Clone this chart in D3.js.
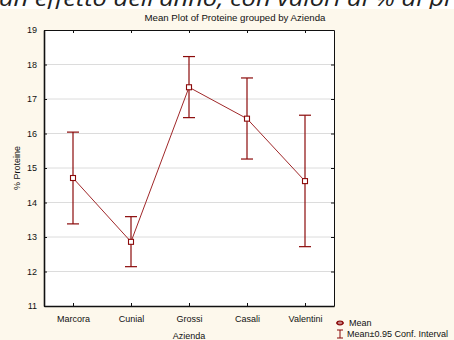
<!DOCTYPE html>
<html><head><meta charset="utf-8">
<script src="https://cdn.jsdelivr.net/npm/d3@7/dist/d3.min.js"></script>
<style>
html,body{margin:0;padding:0;background:#fff;}
svg{display:block;}
text{font-family:"Liberation Sans",Arial,sans-serif;}
</style>
</head><body>
<svg id="c" width="454" height="340"></svg>
<script>
const categories = ["Marcora","Cunial","Grossi","Casali","Valentini"];
const means = [14.71, 12.86, 17.34, 16.43, 14.62];
const upper = [16.04, 13.59, 18.23, 17.61, 16.53];
const lower = [13.38, 12.14, 16.46, 15.26, 12.72];
const yTicks = [11,12,13,14,15,16,17,18,19];
const titleText = "Mean Plot of Proteine grouped by  Azienda";
const xTitle = "Azienda";
const yTitle = "% Proteine";
const legendItems = ["Mean","Mean±0.95 Conf. Interval"];
const topText = "an effetto dell'anno, con valori di % di pr";

const svg = d3.select("#c");
const W = 454, H = 340;
const red = "#8b0a0a";

svg.append("defs").append("clipPath").attr("id","topclip")
  .append("rect").attr("x",0).attr("y",0).attr("width",W).attr("height",9);

svg.append("rect").attr("x",0).attr("y",0).attr("width",W).attr("height",H).attr("fill","#fff");
svg.append("text").attr("x",-1).attr("y",6).attr("clip-path","url(#topclip)")
  .style("font-family","'Open Sans','DejaVu Sans',sans-serif").style("font-style","italic")
  .style("font-size","22px").attr("fill","#222").attr("textLength",455).attr("lengthAdjust","spacingAndGlyphs").text(topText);
svg.append("rect").attr("x",0).attr("y",9).attr("width",W).attr("height",H-9).attr("fill","#fdf8ec");

const m = {left:44, right:334, top:30, bottom:306};
const x = d3.scalePoint().domain(categories).range([m.left, m.right]).padding(0.5);
const y = d3.scaleLinear().domain([11,19]).range([m.bottom, m.top]);

svg.append("rect").attr("x",m.left).attr("y",m.top).attr("width",m.right-m.left).attr("height",m.bottom-m.top).attr("fill","#fff");

svg.append("g").selectAll("line").data(yTicks.slice(1,-1)).join("line")
  .attr("x1",m.left).attr("x2",m.right).attr("y1",d=>y(d)).attr("y2",d=>y(d))
  .attr("stroke","#dcdcdc").attr("stroke-width",1);

const axL = d3.axisLeft(y).tickValues(yTicks).tickSizeInner(-3).tickSizeOuter(0).tickPadding(7);
const gL = svg.append("g").attr("transform",`translate(${m.left},0)`).call(axL);
const axR = d3.axisRight(y).tickValues(yTicks).tickSizeInner(-3).tickSizeOuter(0).tickFormat("");
const gR = svg.append("g").attr("transform",`translate(${m.right},0)`).call(axR);
const axB = d3.axisBottom(x).tickSizeInner(-3).tickSizeOuter(0).tickPadding(10);
const gB = svg.append("g").attr("transform",`translate(0,${m.bottom})`).call(axB);
const axT = d3.axisTop(x).tickSizeInner(-3).tickSizeOuter(0).tickFormat("");
const gT = svg.append("g").attr("transform",`translate(0,${m.top})`).call(axT);
[gL,gR,gB,gT].forEach(g=>{
  g.select(".domain").attr("stroke","#111");
  g.selectAll(".tick line").attr("stroke","#111");
  g.selectAll("text").attr("fill","#111").style("font-size","9px").style("font-family","'Liberation Sans',Arial,sans-serif");
});
gL.select(".domain").attr("stroke-width",1.6);
gB.select(".domain").attr("stroke-width",1.4);

svg.append("text").attr("x",235).attr("y",21).attr("text-anchor","middle")
  .style("font-size","9px").attr("fill","#111").attr("textLength",181).attr("lengthAdjust","spacingAndGlyphs").text(titleText);
svg.append("text").attr("x",(m.left+m.right)/2).attr("y",339).attr("text-anchor","middle")
  .style("font-size","9px").attr("fill","#111").text(xTitle);
svg.append("text").attr("transform",`translate(20,${(m.top+m.bottom)/2}) rotate(-90)`).attr("text-anchor","middle")
  .style("font-size","9px").attr("fill","#111").text(yTitle);

const cap = 6;
const eb = svg.append("g").attr("stroke",red).attr("stroke-width",1.2).attr("fill","none");
categories.forEach((c,i)=>{
  const cx = x(c);
  eb.append("line").attr("x1",cx).attr("x2",cx).attr("y1",y(upper[i])).attr("y2",y(lower[i]));
  eb.append("line").attr("x1",cx-cap).attr("x2",cx+cap).attr("y1",y(upper[i])).attr("y2",y(upper[i]));
  eb.append("line").attr("x1",cx-cap).attr("x2",cx+cap).attr("y1",y(lower[i])).attr("y2",y(lower[i]));
});

const line = d3.line().x((d,i)=>x(categories[i])).y(d=>y(d));
svg.append("path").datum(means).attr("d",line).attr("fill","none").attr("stroke","#a0282a").attr("stroke-width",1);

svg.append("g").selectAll("rect").data(means).join("rect")
  .attr("x",(d,i)=>x(categories[i])-2.5).attr("y",d=>y(d)-2.5).attr("width",5).attr("height",5)
  .attr("fill","#fff").attr("stroke",red).attr("stroke-width",1.1);

const lg = svg.append("g");
lg.append("ellipse").attr("cx",340).attr("cy",323).attr("rx",3).attr("ry",1.8).attr("fill","#fff").attr("stroke",red).attr("stroke-width",1.3);
lg.append("line").attr("x1",336).attr("x2",344).attr("y1",323).attr("y2",323).attr("stroke",red).attr("stroke-width",1);
lg.append("text").attr("x",349).attr("y",326).style("font-size","9px").attr("fill","#111").text(legendItems[0]);
lg.append("line").attr("x1",340).attr("x2",340).attr("y1",330).attr("y2",338).attr("stroke",red);
lg.append("line").attr("x1",337).attr("x2",343).attr("y1",330).attr("y2",330).attr("stroke",red);
lg.append("line").attr("x1",337).attr("x2",343).attr("y1",338).attr("y2",338).attr("stroke",red);
lg.append("text").attr("x",347).attr("y",337).style("font-size","9px").attr("fill","#111").text(legendItems[1]);
</script>
</body></html>
